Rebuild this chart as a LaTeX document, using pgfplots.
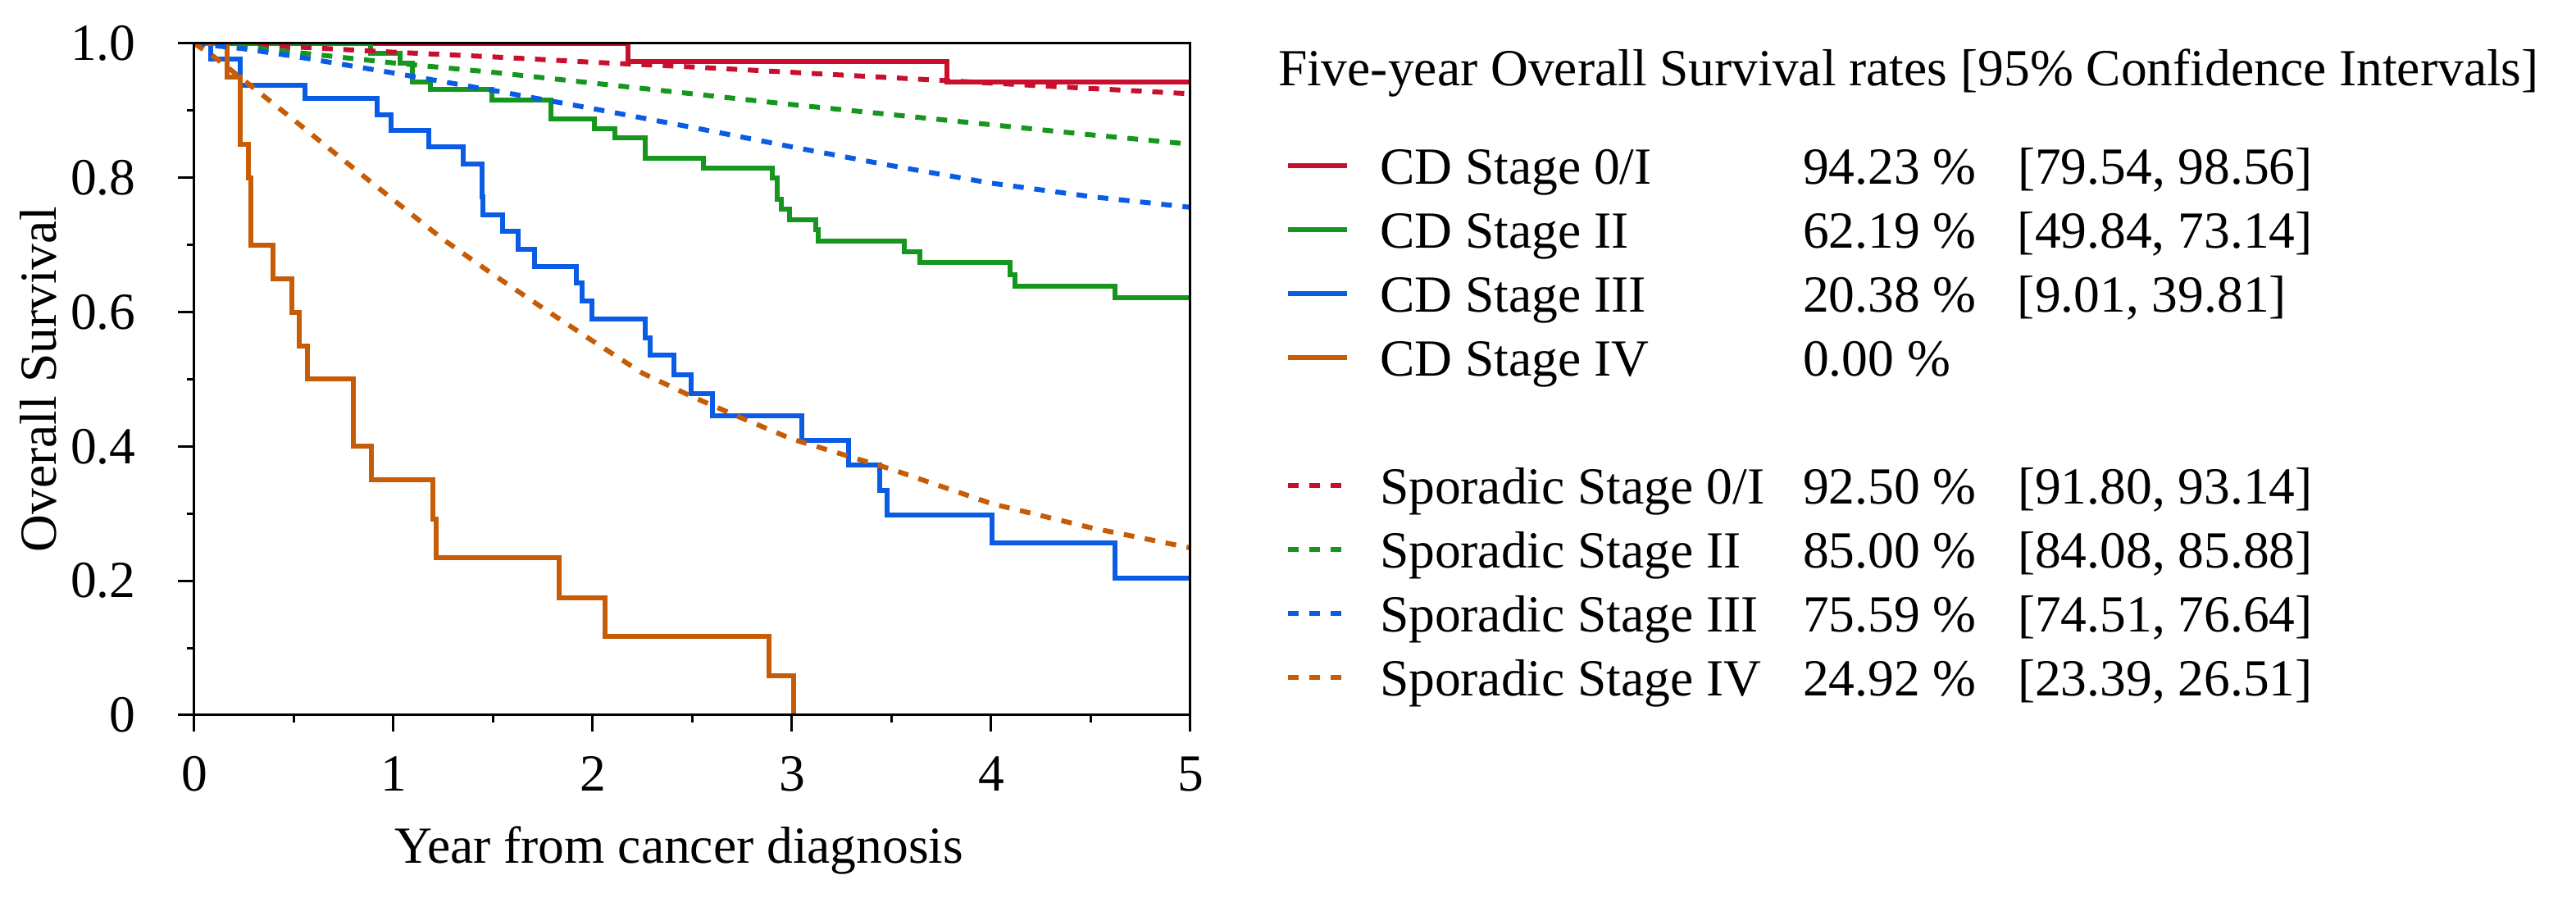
\documentclass[border=0pt]{standalone}
\usepackage{fontspec}
\setmainfont{Liberation Serif}
\usepackage{pgfplots}
\pgfplotsset{compat=1.18}

\definecolor{cdred}{RGB}{200,16,46}
\definecolor{cdgreen}{RGB}{22,150,30}
\definecolor{cdblue}{RGB}{10,92,228}
\definecolor{cdorange}{RGB}{198,92,6}

% legend row: name, five-year rate, confidence interval
\newcommand\entry[3]{\makebox[103.2pt][l]{#1}\makebox[52.4pt][l]{#2}#3}

\begin{document}
\begin{tikzpicture}[font=\fontsize{12.7}{15.6}\selectfont]
\begin{axis}[
  scale only axis,
  width=243pt, height=163.8pt,
  xmin=0, xmax=5, ymin=0, ymax=1,
  axis on top,
  axis line style={line width=0.6pt},
  xtick={0,1,2,3,4,5}, xticklabels={0,1,2,3,4,5},
  ytick={0,0.2,0.4,0.6,0.8,1}, yticklabels={0,0.2,0.4,0.6,0.8,1.0},
  minor xtick={0.5,1.5,2.5,3.5,4.5},
  minor ytick={0.1,0.3,0.5,0.7,0.9},
  tick align=outside, tick pos=left,
  major tick length=3.9pt, minor tick length=1.8pt,
  every tick/.style={black, line width=0.6pt},
  /pgf/number format/assume math mode=true,
  xticklabel style={inner sep=0pt, anchor=north, yshift=-6pt},
  yticklabel style={inner sep=0pt, anchor=east, xshift=-10.2pt},
  xlabel={Year from cancer diagnosis},
  ylabel={Overall Survival},
  xlabel style={at={([xshift=-3.2pt,yshift=-36.2pt]axis description cs:0.5,0)}, anchor=base, inner sep=0pt},
  ylabel style={at={([xshift=-33.6pt]axis description cs:0,0.5)}, anchor=base, inner sep=0pt},
  legend cell align=left,
  legend style={at={(axis description cs:1.0955,0.8576)}, anchor=north west,
    draw=none, fill=none, inner sep=0pt, outer sep=0pt, row sep=0pt,
    nodes={inner sep=0pt, text height=11pt, text depth=4.6pt}},
  legend image code/.code={\draw[#1] (0pt,1.4pt) -- (14.4pt,1.4pt);
    \path[draw=none, fill=none] (0pt,0pt) -- (22.4pt,0pt);},
  every axis plot/.append style={line width=1.2pt},
]
% CD patients: Kaplan-Meier steps
\addplot[cdred, const plot] coordinates {(0,1) (2.177,0.973) (3.778,0.942) (5,0.942)};
\addlegendentry{\entry{CD Stage 0/I}{94.23 \%}{[79.54, 98.56]}}
\addplot[cdgreen, const plot] coordinates {
  (0,1) (0.883,0.985) (1.034,0.971) (1.096,0.943) (1.185,0.931) (1.494,0.916)
  (1.789,0.888) (2.008,0.873) (2.111,0.859) (2.262,0.829) (2.556,0.814) (2.90,0.800)
  (2.926,0.768) (2.947,0.753) (2.988,0.738) (3.119,0.723) (3.132,0.706) (3.565,0.690)
  (3.64,0.674) (4.093,0.656) (4.12,0.639) (4.621,0.621) (5,0.621)};
\addlegendentry{\entry{CD Stage II}{62.19 \%}{[49.84, 73.14]}}
\addplot[cdblue, const plot] coordinates {
  (0,1) (0.081,0.977) (0.23,0.938) (0.554,0.918) (0.918,0.894) (0.986,0.870)
  (1.178,0.846) (1.35,0.821) (1.445,0.772) (1.45,0.745) (1.548,0.720) (1.624,0.694)
  (1.706,0.668) (1.919,0.643) (1.947,0.617) (1.995,0.590) (2.262,0.562) (2.288,0.536)
  (2.406,0.507) (2.494,0.479) (2.60,0.446) (3.05,0.409) (3.286,0.372) (3.44,0.334)
  (3.477,0.298) (4.004,0.256) (4.62,0.204) (5,0.204)};
\addlegendentry{\entry{CD Stage III}{20.38 \%}{[9.01, 39.81]}}
\addplot[cdorange, const plot] coordinates {
  (0,1) (0.163,0.95) (0.23,0.85) (0.27,0.80) (0.284,0.70) (0.396,0.65) (0.49,0.60)
  (0.527,0.55) (0.568,0.50) (0.80,0.40) (0.887,0.35) (1.198,0.292) (1.214,0.234)
  (1.83,0.175) (2.06,0.117) (2.885,0.058) (3.01,0)};
\addlegendentry{\entry{CD Stage IV}{0.00 \%}{}}
\addlegendimage{empty legend}
\addlegendentry{}
% sporadic patients
\addplot[cdred, dash pattern=on 2.6pt off 2.6pt] coordinates {
  (0,1) (0.5,0.995) (1,0.987) (1.5,0.980) (2,0.972) (2.5,0.965) (3,0.957)
  (3.5,0.949) (4,0.941) (4.5,0.933) (5,0.925)};
\addlegendentry{\entry{Sporadic Stage 0/I}{92.50 \%}{[91.80, 93.14]}}
\addplot[cdgreen, dash pattern=on 2.6pt off 2.6pt] coordinates {
  (0,1) (0.25,0.995) (0.5,0.987) (1,0.971) (1.5,0.957) (2,0.941) (2.5,0.925)
  (3,0.909) (3.5,0.894) (4,0.879) (4.5,0.864) (5,0.850)};
\addlegendentry{\entry{Sporadic Stage II}{85.00 \%}{[84.08, 85.88]}}
\addplot[cdblue, dash pattern=on 2.6pt off 2.6pt] coordinates {
  (0,1) (0.25,0.992) (0.5,0.981) (1,0.956) (1.5,0.930) (2,0.903) (2.5,0.875)
  (3,0.846) (3.5,0.818) (4,0.792) (4.5,0.772) (5,0.756)};
\addlegendentry{\entry{Sporadic Stage III}{75.59 \%}{[74.51, 76.64]}}
\addplot[cdorange, dash pattern=on 2.6pt off 2.6pt] coordinates {
  (0,1) (0.1,0.98) (0.25,0.945) (0.5,0.886) (0.75,0.826) (1,0.767) (1.25,0.708)
  (1.5,0.656) (1.75,0.606) (2,0.557) (2.25,0.509) (2.5,0.474) (2.75,0.442)
  (3,0.411) (3.5,0.366) (4,0.315) (4.5,0.279) (5,0.249)};
\addlegendentry{\entry{Sporadic Stage IV}{24.92 \%}{[23.39, 26.51]}}
\end{axis}
\node[anchor=base west, inner sep=0pt] at (264.2pt,153.4pt)
  {Five-year Overall Survival rates [95\% Confidence Intervals]};
\pgfresetboundingbox
\path[use as bounding box] (-47.4pt,-44.6pt) rectangle (581pt,174.4pt);
\end{tikzpicture}
\end{document}
